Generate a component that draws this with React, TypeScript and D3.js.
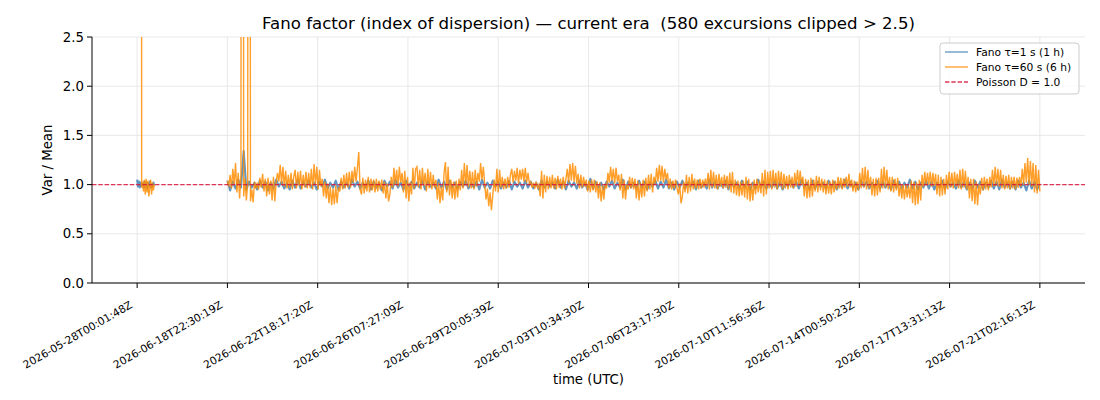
import * as d3 from "d3";

// x positions are sample indices; the axis shows 11 evenly spaced timestamps
const tickLabels = [
  "2026-05-28T00:01:48Z",
  "2026-06-18T22:30:19Z",
  "2026-06-22T18:17:20Z",
  "2026-06-26T07:27:09Z",
  "2026-06-29T20:05:39Z",
  "2026-07-03T10:34:30Z",
  "2026-07-06T23:17:30Z",
  "2026-07-10T11:56:36Z",
  "2026-07-14T00:50:23Z",
  "2026-07-17T13:31:13Z",
  "2026-07-21T02:16:13Z",
];
const tickIndex = [0, 100, 200, 300, 400, 500, 600, 700, 800, 900, 1000];
const yTicks = [0, 0.5, 1.0, 1.5, 2.0, 2.5];

// first short stretch of data (index 0.., step 1)
const headStart = 0;
const headStep = 1;
const headFast = [
  1.05, 0.98, 1.03, 0.97, 1.02, 0.99, 1.01, 0.97, 1.03, 0.98,
  1.02, 0.96, 1.01, 0.99, 1.03, 0.97, 1.0, 0.98, 1.02, 0.99,
];
const headSlow = [
  null, null, null, null, 30, 0.97, 1.03, 0.93, 1.05, 0.9,
  1.06, 0.92, 1.04, 0.88, 0.98, 1.05, 0.9, 1.02, 0.94, 1.0,
];

// main stretch, τ=1 s (index 100.., step 3)
const fastStart = 100;
const fastStep = 3;
const bodyFast = [
  1.04, 0.94, 1.03, 0.96, 1.05, 0.97, 1.34, 0.95, 1.03, 0.97,
  1.02, 0.95, 1.04, 0.97, 1.03, 0.94, 1.02, 0.96, 1.05, 0.98,
  1.03, 0.96, 1.02, 0.95, 1.04, 0.97, 1.05, 0.96, 1.03, 0.98,
  1.04, 0.97, 1.02, 0.95, 1.03, 0.98, 1.05, 0.96, 1.02, 0.97,
  1.04, 0.95, 1.03, 0.97, 1.02, 0.96, 1.05, 0.98, 1.03, 0.96,
  1.02, 0.97, 1.04, 0.95, 1.03, 0.97, 1.02, 0.94, 1.04, 0.98,
  1.03, 0.96, 1.05, 0.97, 1.02, 0.95, 1.04, 0.98, 1.03, 0.96,
  1.02, 0.97, 1.04, 0.95, 1.03, 0.98, 1.02, 0.96, 1.05, 0.97,
  1.03, 0.95, 1.04, 0.97, 1.02, 0.96, 1.03, 0.98, 1.04, 0.96,
  1.02, 0.97, 1.03, 0.95, 1.05, 0.97, 1.02, 0.96, 1.04, 0.98,
  1.03, 0.96, 1.02, 0.97, 1.04, 0.95, 1.03, 0.98, 1.02, 0.96,
  1.04, 0.97, 1.03, 0.96, 1.02, 0.95, 1.04, 0.97, 1.03, 0.98,
  1.02, 0.96, 1.05, 0.97, 1.03, 0.95, 1.04, 0.98, 1.02, 0.96,
  1.04, 0.97, 1.02, 0.95, 1.06, 0.96, 1.03, 0.97, 1.02, 0.95,
  1.03, 0.98, 1.04, 0.96, 1.02, 0.97, 1.05, 0.95, 1.03, 0.97,
  1.02, 0.96, 1.04, 0.97, 1.03, 0.95, 1.02, 0.98, 1.04, 0.96,
  1.03, 0.97, 1.05, 0.96, 1.02, 0.95, 1.03, 0.97, 1.04, 0.96,
  1.02, 0.98, 1.03, 0.95, 1.04, 0.97, 1.02, 0.96, 1.05, 0.97,
  1.03, 0.96, 1.02, 0.97, 1.04, 0.95, 1.03, 0.98, 1.02, 0.96,
  1.04, 0.97, 1.03, 0.95, 1.02, 0.96, 1.05, 0.97, 1.03, 0.96,
  1.02, 0.97, 1.04, 0.96, 1.03, 0.95, 1.02, 0.98, 1.04, 0.97,
  1.03, 0.96, 1.05, 0.97, 1.02, 0.95, 1.04, 0.96, 1.03, 0.98,
  1.02, 0.96, 1.04, 0.97, 1.03, 0.95, 1.02, 0.97, 1.05, 0.96,
  1.03, 0.97, 1.02, 0.95, 1.04, 0.98, 1.03, 0.96, 1.02, 0.97,
  1.04, 0.96, 1.03, 0.97, 1.02, 0.95, 1.04, 0.97, 1.03, 0.96,
  1.02, 0.97, 1.05, 0.96, 1.03, 0.95, 1.02, 0.97, 1.04, 0.96,
  1.03, 0.95, 1.02, 0.97, 1.04, 0.96, 1.03, 0.98, 1.02, 0.96,
  1.04, 0.97, 1.03, 0.95, 1.02, 0.96, 1.04, 0.97, 1.03, 0.95,
  1.02, 0.97, 1.04, 0.96, 1.03, 0.95, 1.05, 0.97, 1.02, 0.96,
  1.03, 0.95, 1.04, 0.97, 1.02, 0.94, 1.04, 0.96, 1.03, 0.95,
  1.01,
];

// main stretch, τ=60 s (index 100.., step 1.5)
const slowStart = 100;
const slowStep = 1.5;
const bodySlow = [
  1.04, 0.98, 1.1, 0.96, 1.16, 1.0, 1.22, 0.92, 1.12, 0.86,
  1.1, 30, 0.88, 1.06, 0.84, 1.02, 30, 0.83, 0.95, 0.82,
  1.03, 0.96, 1.02, 0.95, 1.07, 0.97, 1.11, 0.93, 1.06, 0.88,
  1.07, 0.9, 1.04, 0.84, 1.08, 0.83, 1.02, 1.12, 1.03, 1.2,
  1.01, 1.18, 0.98, 1.14, 0.96, 1.1, 0.97, 1.12, 0.95, 1.08,
  1.15, 0.96, 1.13, 0.99, 1.14, 0.95, 1.1, 0.97, 1.13, 0.96,
  1.12, 0.97, 1.16, 0.95, 1.21, 1.0, 1.18, 0.95, 1.15, 0.98,
  1.06, 0.88, 1.03, 0.86, 1.01, 0.81, 0.98, 0.79, 0.96, 0.8,
  0.99, 0.81, 0.97, 0.93, 1.07, 0.95, 1.1, 0.96, 1.12, 0.97,
  1.13, 0.97, 1.14, 1.02, 1.18, 1.03, 1.17, 1.33, 0.95, 0.9,
  1.07, 0.91, 1.05, 0.93, 1.08, 0.92, 1.06, 0.94, 1.05, 0.92,
  1.06, 0.93, 1.04, 0.95, 1.05, 0.91, 1.03, 0.86, 1.01, 0.83,
  0.9, 1.08, 0.97, 1.17, 1.0, 1.15, 0.98, 1.18, 1.02, 1.12,
  0.92, 1.14, 0.86, 1.08, 0.83, 1.02, 0.9, 1.17, 0.96, 1.16,
  1.18, 0.97, 1.15, 0.95, 1.17, 0.99, 1.12, 0.93, 1.16, 0.96,
  1.13, 0.95, 1.1, 0.97, 1.05, 0.85, 1.02, 0.81, 0.98, 0.84,
  1.12, 1.23, 0.92, 1.18, 0.89, 1.05, 0.86, 1.03, 0.85, 1.04,
  0.87, 1.06, 0.94, 1.15, 0.96, 1.22, 0.99, 1.2, 0.97, 1.14,
  0.96, 1.13, 0.95, 1.15, 0.98, 1.12, 1.03, 1.22, 1.05, 1.18,
  1.01, 0.85, 0.96, 0.78, 0.92, 0.74, 0.9, 1.05, 0.93, 1.16,
  0.92, 1.15, 0.97, 1.08, 0.95, 1.06, 0.96, 1.08, 0.97, 1.1,
  1.16, 1.02, 1.14, 1.04, 1.17, 1.01, 1.15, 1.05, 1.16, 1.03,
  1.17, 1.02, 1.12, 1.01, 1.03, 0.97, 1.02, 0.96, 1.03, 0.97,
  1.0, 0.88, 1.14, 0.86, 1.1, 0.92, 1.09, 0.95, 1.08, 0.96,
  1.1, 0.96, 1.07, 0.95, 1.09, 0.97, 1.06, 0.95, 1.08, 0.96,
  1.06, 1.16, 1.02, 1.21, 1.04, 1.22, 1.03, 1.19, 1.01, 1.11,
  0.96, 1.1, 0.97, 1.08, 0.98, 1.05, 0.93, 1.04, 0.92, 1.05,
  0.94, 1.05, 0.92, 1.03, 0.86, 1.02, 0.83, 0.99, 0.85, 1.01,
  0.96, 1.12, 1.02, 1.18, 1.04, 1.16, 1.01, 1.17, 1.03, 1.1,
  0.94, 1.11, 0.86, 1.05, 0.85, 1.0, 0.95, 1.08, 0.96, 1.07,
  0.95, 1.06, 0.86, 1.04, 0.84, 1.02, 0.87, 1.05, 0.88, 1.07,
  0.93, 1.1, 0.95, 1.11, 0.92, 1.08, 1.01, 1.17, 1.03, 1.2,
  1.04, 1.19, 1.02, 1.16, 1.05, 1.12, 0.96, 1.06, 0.95, 1.04,
  0.96, 1.05, 0.97, 0.9, 1.01, 0.81, 0.88, 1.03, 0.92, 1.1,
  0.91, 1.08, 0.93, 1.11, 0.95, 1.06, 0.96, 1.05, 0.95, 1.06,
  0.96, 1.05, 0.97, 1.06, 0.98, 1.12, 0.95, 1.15, 0.97, 1.13,
  0.96, 1.1, 0.95, 1.11, 0.98, 1.08, 0.96, 1.1, 0.97, 1.09,
  0.95, 1.12, 0.92, 1.13, 0.91, 1.05, 0.89, 1.04, 0.88, 1.03,
  0.89, 1.04, 0.87, 1.08, 0.85, 1.06, 0.83, 1.02, 0.84, 1.05,
  0.9, 1.06, 0.92, 1.04, 0.91, 1.12, 0.88, 1.15, 0.9, 1.13,
  0.96, 1.14, 0.95, 1.15, 0.97, 1.12, 0.95, 1.14, 0.98, 1.13,
  0.95, 1.11, 0.96, 1.09, 0.95, 1.1, 0.97, 1.08, 0.96, 1.12,
  0.98, 1.15, 0.99, 1.14, 1.0, 1.08, 0.88, 1.06, 0.86, 1.05,
  0.87, 1.07, 0.88, 1.05, 0.93, 1.09, 0.92, 1.08, 0.94, 1.06,
  0.92, 1.05, 0.9, 1.04, 0.91, 1.03, 0.9, 1.05, 0.92, 1.04,
  0.95, 1.08, 0.96, 1.07, 0.95, 1.06, 0.97, 1.08, 0.98, 1.11,
  0.97, 1.05, 0.93, 1.04, 0.92, 1.03, 0.94, 1.12, 0.96, 1.17,
  0.97, 1.18, 0.95, 1.15, 0.96, 1.08, 0.89, 1.06, 0.88, 1.07,
  0.89, 1.07, 0.92, 1.16, 0.96, 1.18, 0.97, 1.15, 0.95, 1.08,
  0.93, 1.08, 0.92, 1.06, 0.94, 1.07, 0.88, 1.01, 0.86, 1.0,
  0.85, 1.0, 0.87, 0.99, 0.86, 1.04, 0.81, 1.03, 0.79, 1.02,
  0.8, 1.05, 0.84, 1.1, 0.98, 1.13, 0.99, 1.12, 1.0, 1.13,
  0.98, 1.12, 0.99, 1.11, 0.9, 1.1, 0.88, 1.08, 0.89, 1.06,
  0.9, 1.1, 0.95, 1.13, 0.97, 1.12, 0.96, 1.13, 0.98, 1.11,
  0.96, 1.15, 0.95, 1.16, 0.97, 1.14, 0.95, 1.08, 0.86, 1.06,
  0.83, 1.06, 0.8, 1.03, 0.79, 1.0, 0.9, 1.07, 0.94, 1.08,
  0.95, 1.06, 0.94, 1.08, 0.97, 1.15, 0.98, 1.18, 0.99, 1.16,
  0.98, 1.15, 0.96, 1.1, 0.95, 1.09, 0.96, 1.1, 0.95, 1.08,
  0.96, 1.08, 0.95, 1.07, 0.97, 1.08, 0.98, 1.16, 1.0, 1.22,
  1.02, 1.27, 1.0, 1.24, 0.98, 1.22, 0.92, 1.2, 0.91, 1.15,
  0.93,
];

const poissonLevel = 1.0;

const W = 1100;
const H = 400;
const left = 92;
const right = 1085;
const top = 37;
const bottom = 283;
const font = "DejaVu Sans, sans-serif";

const x = d3.scaleLinear().domain([-50, 1050]).range([left, right]);
const y = d3.scaleLinear().domain([0, 2.5]).range([bottom, top]);

type Pt = { i: number; v: number | null };
const toPts = (vals: (number | null)[], start: number, step: number): Pt[] =>
  vals.map((v, k) => ({ i: start + k * step, v }));

const line = d3
  .line<Pt>()
  .defined((d) => d.v !== null)
  .x((d) => x(d.i))
  .y((d) => y(d.v as number));

const fastPaths = [toPts(headFast, headStart, headStep), toPts(bodyFast, fastStart, fastStep)];
const slowPaths = [toPts(headSlow, headStart, headStep), toPts(bodySlow, slowStart, slowStep)];

const blue = "steelblue";
const orange = "darkorange";
const red = "crimson";

export default function App() {
  return (
    <svg
      width={W}
      height={H}
      style={{ position: "absolute", left: 0, top: 0, background: "white" }}
      fontFamily={font}
    >
      <defs>
        <clipPath id="plot">
          <rect x={left} y={top} width={right - left} height={bottom - top} />
        </clipPath>
      </defs>

      {/* grid */}
      {tickIndex.map((t) => (
        <line key={"gx" + t} x1={x(t)} x2={x(t)} y1={top} y2={bottom} stroke="#e3e3e3" strokeWidth={0.8} />
      ))}
      {yTicks.map((t) => (
        <line key={"gy" + t} x1={left} x2={right} y1={y(t)} y2={y(t)} stroke="#e3e3e3" strokeWidth={0.8} />
      ))}

      <g clipPath="url(#plot)">
        {fastPaths.map((p, k) => (
          <path key={"f" + k} d={line(p) ?? ""} fill="none" stroke={blue} strokeOpacity={0.85} strokeWidth={2.1} strokeLinejoin="round" />
        ))}
        {slowPaths.map((p, k) => (
          <path key={"s" + k} d={line(p) ?? ""} fill="none" stroke={orange} strokeOpacity={0.84} strokeWidth={1.4} />
        ))}
        <line
          x1={left}
          x2={right}
          y1={y(poissonLevel)}
          y2={y(poissonLevel)}
          stroke={red}
          strokeOpacity={0.85}
          strokeWidth={1.2}
          strokeDasharray="4.4,1.9"
        />
      </g>

      {/* spines */}
      <line x1={left} x2={left} y1={top} y2={bottom} stroke="black" strokeWidth={1} />
      <line x1={left} x2={right} y1={bottom} y2={bottom} stroke="black" strokeWidth={1} />

      {/* y ticks */}
      {yTicks.map((t) => (
        <g key={"yt" + t}>
          <line x1={left - 5} x2={left} y1={y(t)} y2={y(t)} stroke="black" strokeWidth={1} />
          <text x={left - 8} y={y(t)} textAnchor="end" dominantBaseline="central" fontSize={13.3} fill="#000">
            {t.toFixed(1)}
          </text>
        </g>
      ))}

      {/* x ticks */}
      {tickIndex.map((t, k) => (
        <g key={"xt" + t}>
          <line x1={x(t)} x2={x(t)} y1={bottom} y2={bottom + 5} stroke="black" strokeWidth={1} />
          <text
            x={x(t) - 4}
            y={bottom + 24}
            textAnchor="end"
            fontSize={10.7}
            fill="#000"
            transform={`rotate(-30 ${x(t) - 4} ${bottom + 24})`}
          >
            {tickLabels[k]}
          </text>
        </g>
      ))}

      {/* labels */}
      <text x={(left + right) / 2} y={29} textAnchor="middle" fontSize={16.6} fill="#000" style={{ whiteSpace: "pre" }}>
        {"Fano factor (index of dispersion) — current era  (580 excursions clipped > 2.5)"}
      </text>
      <text x={(left + right) / 2} y={384} textAnchor="middle" fontSize={13.3} fill="#000">
        time (UTC)
      </text>
      <text
        x={0}
        y={0}
        textAnchor="middle"
        fontSize={13.3}
        fill="#000"
        transform={`translate(52 ${(top + bottom) / 2}) rotate(-90)`}
      >
        Var / Mean
      </text>

      {/* legend */}
      <g>
        <rect x={940} y={43} width={139} height={51} rx={3} fill="white" fillOpacity={0.8} stroke="#cccccc" strokeWidth={1} />
        {[
          { label: "Fano τ=1 s (1 h)", color: blue, dash: "", op: 0.85 },
          { label: "Fano τ=60 s (6 h)", color: orange, dash: "", op: 0.85 },
          { label: "Poisson D = 1.0", color: red, dash: "4.4,1.9", op: 0.85 },
        ].map((e, k) => (
          <g key={e.label} transform={`translate(0 ${52 + k * 15})`}>
            <line x1={945} x2={968} y1={0} y2={0} stroke={e.color} strokeOpacity={e.op} strokeWidth={1.3} strokeDasharray={e.dash} />
            <text x={976} y={0} dominantBaseline="central" fontSize={10.7} fill="#000">
              {e.label}
            </text>
          </g>
        ))}
      </g>
    </svg>
  );
}
